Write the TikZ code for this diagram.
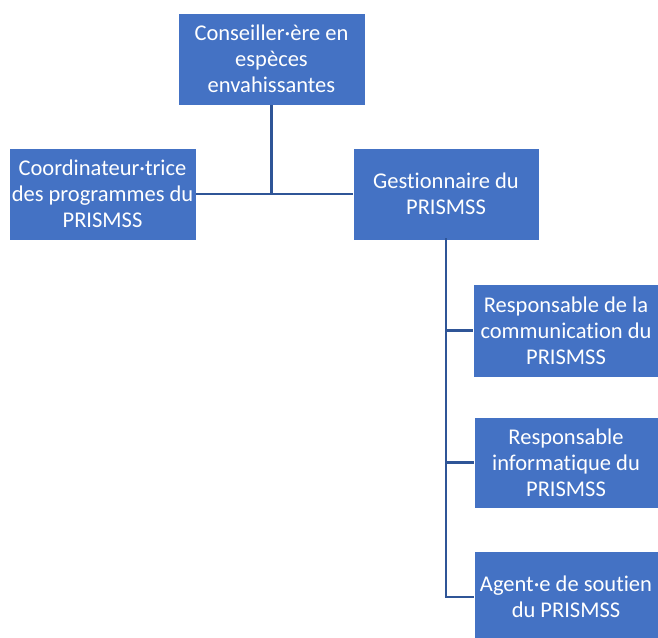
\documentclass[tikz,border=0pt]{standalone}
\usepackage{fontspec}
\setmainfont[Ligatures=NoCommon]{Carlito}
\definecolor{boxblue}{HTML}{4472C4}
\definecolor{linkblue}{HTML}{2F5597}
\begin{document}
\begin{tikzpicture}[x=1pt,y=-1pt,
  orgbox/.style={rectangle, fill=boxblue, draw=white, line width=0.6pt,
    minimum width=187pt, minimum height=92pt, inner sep=0pt, align=center,
    text=white, font=\fontsize{22.5}{26}\selectfont},
  link/.style={draw=linkblue, line width=2.4pt}]
\useasboundingbox (0,0) rectangle (658,637);
\clip (0,0) rectangle (658,637);
\fill[white] (0,0) rectangle (658,637);
\node[orgbox] (top) at (271.5,59) {Conseiller·ère en\\espèces\\envahissantes};
\node[orgbox] (left) at (102.5,194) {Coordinateur·trice\\des programmes du\\PRISMSS};
\node[orgbox, minimum width=186pt] (gest) at (446,194) {Gestionnaire du\\PRISMSS};
\node[orgbox, minimum width=185pt, minimum height=93pt] (r1) at (566,330.5) {Responsable de la\\communication du\\PRISMSS};
\node[orgbox, minimum width=184pt, minimum height=91pt] (r2) at (566,462.5) {Responsable\\informatique du\\PRISMSS};
\node[orgbox, minimum width=184pt] (r3) at (566,597) {Agent·e de soutien\\du PRISMSS};
\draw[link] (left.east) -- (gest.west);
\draw[link] (top.south) -- (top.south |- left.east);
\draw[link] ([yshift=2pt]gest.south) -- (gest.south |- r3.west);
\draw[link] (gest.south |- r1.west) -- (r1.west);
\draw[link] (gest.south |- r2.west) -- (r2.west);
\draw[link] ([xshift=-1.2pt]gest.south |- r3.west) -- (r3.west);
\end{tikzpicture}
\end{document}
